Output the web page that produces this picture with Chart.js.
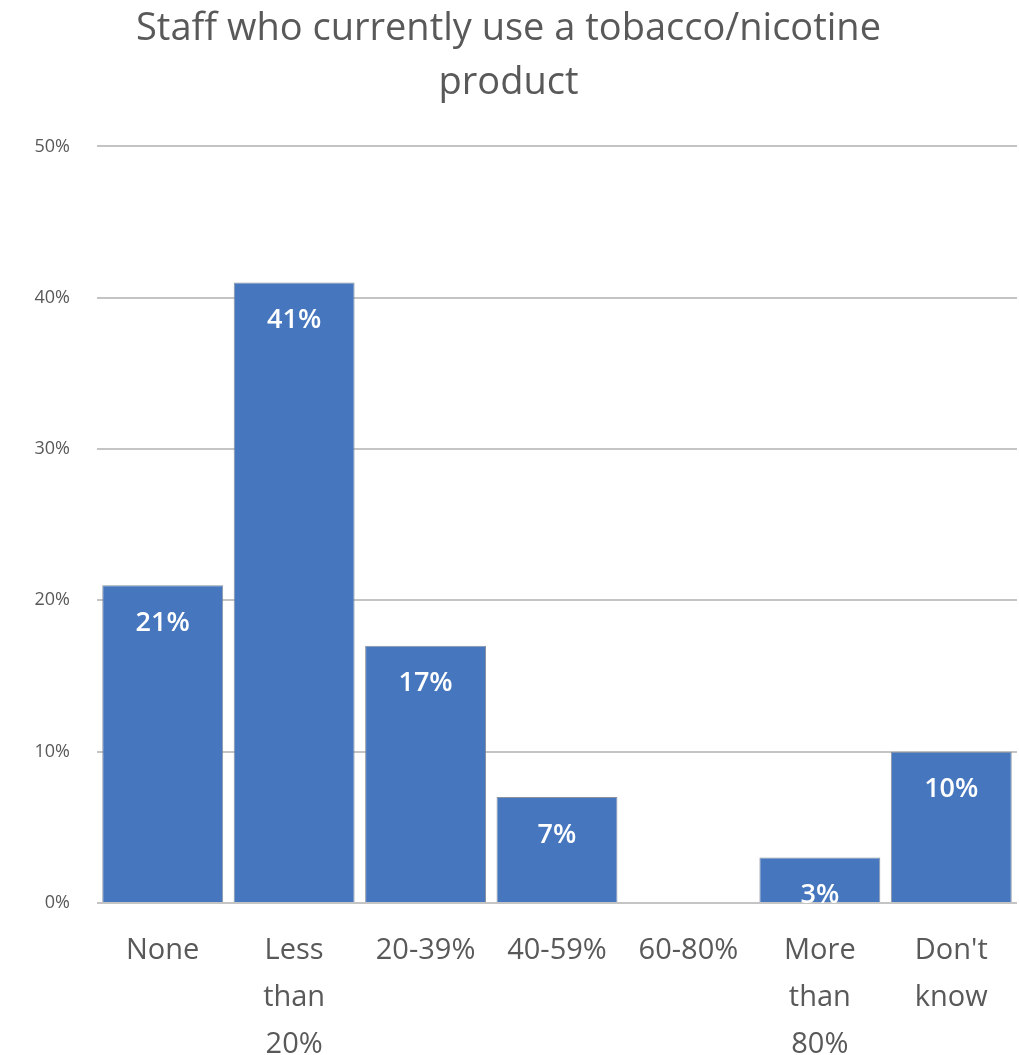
<!DOCTYPE html>
<html>
<head>
<meta charset="utf-8">
<script src="https://cdn.jsdelivr.net/npm/chart.js@4"></script>
<style>
  html, body { margin: 0; padding: 0; background: #fff; }
  #wrap { width: 1019px; height: 1055px; }
</style>
</head>
<body>
<div id="wrap"><canvas id="chart"></canvas></div>
<script>
// chart data
const categories = [['None'], ['Less', 'than', '20%'], ['20-39%'], ['40-59%'], ['60-80%'], ['More', 'than', '80%'], ["Don't", 'know']];
const shares = [21, 41, 17, 7, null, 3, 10];
const titleLines = ['Staff who currently use a tobacco/nicotine', 'product'];

const fontFamily = '"Open Sans", Lato, sans-serif';

// draws the white value labels inside the top of each bar
const barLabels = {
    id: 'barLabels',
    afterDatasetsDraw(chart) {
        const ctx = chart.ctx;
        const meta = chart.getDatasetMeta(0);
        ctx.save();
        ctx.fillStyle = '#ffffff';
        ctx.font = '600 27px ' + fontFamily;
        ctx.textAlign = 'center';
        ctx.textBaseline = 'middle';
        meta.data.forEach((bar, i) => {
            if (shares[i] === null) return;
            ctx.fillText(shares[i] + '%', bar.x, bar.y + 38);
        });
        ctx.restore();
    }
};

new Chart(document.getElementById('chart').getContext('2d'), {
    type: 'bar',
    data: {
        labels: categories,
        datasets: [{
            data: shares,
            backgroundColor: '#4677be',
            borderColor: 'rgba(125,135,150,0.9)',
            borderWidth: 1,
            categoryPercentage: 0.92,
            barPercentage: 1.0
        }]
    },
    options: {
        responsive: true,
        maintainAspectRatio: false,
        animation: false,
        layout: { padding: { left: 0, right: 2, top: 3, bottom: 0 } },
        plugins: {
            legend: { display: false },
            tooltip: { enabled: false },
            title: {
                display: true,
                text: titleLines,
                color: '#595959',
                font: { family: fontFamily, size: 38, weight: 'normal', lineHeight: 1.4 },
                padding: { top: 0, bottom: 37 }
            }
        },
        scales: {
            x: {
                afterFit: (scale) => { scale.height = 152; },
                grid: { display: false, drawTicks: false },
                border: { display: false },
                ticks: {
                    color: '#595959',
                    font: { family: fontFamily, size: 29, lineHeight: 1.62 },
                    padding: 24,
                    maxRotation: 0,
                    autoSkip: false
                }
            },
            y: {
                min: 0,
                max: 50,
                afterFit: (scale) => { scale.width = 97; },
                grid: { color: '#c4c4c4', lineWidth: 2, drawTicks: false },
                border: { display: false },
                ticks: {
                    stepSize: 10,
                    color: '#595959',
                    padding: 27,
                    font: { family: fontFamily, size: 18 },
                    callback: (v) => v + '%'
                }
            }
        }
    },
    plugins: [barLabels]
});
</script>
</body>
</html>
